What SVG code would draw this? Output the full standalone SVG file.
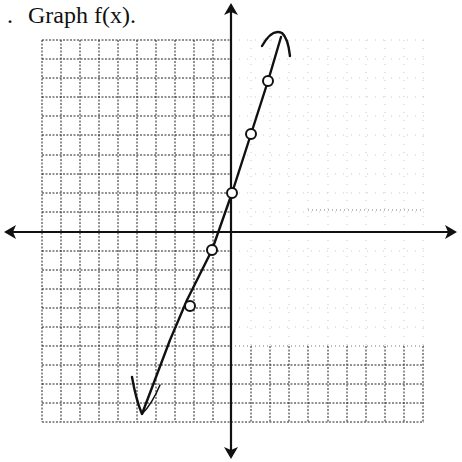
<svg xmlns="http://www.w3.org/2000/svg" width="462" height="462" viewBox="0 0 462 462">
<style>
.gd{stroke:#222;stroke-width:1;stroke-dasharray:2 1.5;fill:none}
.gl{stroke:#bbb;stroke-width:0.8;stroke-dasharray:1 7;fill:none}
.ax{stroke:#111;stroke-width:2.2;fill:none}
.cv{stroke:#111;stroke-width:2.4;fill:none;stroke-linecap:round;stroke-linejoin:round}
.pt{stroke:#111;stroke-width:2;fill:#fff}
.ah{fill:#111}
.tt{font-family:'Liberation Serif', serif;font-size:24px;fill:#111}
</style>
<rect width="462" height="462" fill="#fff"/>
<g id="title">
<text class="tt" x="7" y="23">.</text>
<text class="tt" x="28" y="23">Graph f(x).</text>
</g>
<g id="grid-left">
<path class="gd" d="M42,40V422M61,40V422M80,40V422M99,40V422M118,40V422M137,40V422M156,40V422M175,40V422M194,40V422M213,40V422"/>
<path class="gd" d="M42,40H231M42,59H231M42,78H231M42,97H231M42,116H231M42,135H231M42,155H231M42,174H231M42,193H231M42,212H231M42,251H231M42,270H231M42,289H231M42,308H231M42,327H231M42,346H231M42,365H231M42,384H231M42,403H231M42,422H231"/>
</g>
<g id="grid-right-faint">
<path class="gl" d="M251,40V346M270,40V346M289,40V346M308,40V346M328,40V346M347,40V346M366,40V346M385,40V346M404,40V346M423,40V346"/>
<path class="gl" d="M231,40H424M231,59H424M231,78H424M231,97H424M231,116H424M231,135H424M231,155H424M231,174H424M231,193H424M231,212H424M231,251H424M231,270H424M231,289H424M231,308H424M231,327H424"/>
<path class="gd" style="stroke:#777;stroke-dasharray:1 3" d="M308,210H424M231,346H424"/>
</g>
<g id="grid-right-bottom">
<path class="gd" d="M251,346V422M270,346V422M289,346V422M308,346V422M328,346V422M347,346V422M366,346V422M385,346V422M404,346V422M423,346V422"/>
<path class="gd" d="M231,365H424M231,384H424M231,403H424M231,422H424"/>
</g>
<g id="axes">
<path class="ax" d="M10,232H450"/>
<path class="ax" d="M231,10V452"/>
<path class="ah" d="M4,232L16,225L13,232L16,239Z"/>
<path class="ah" d="M457,232L445,225L448,232L445,239Z"/>
<path class="ah" d="M231,3L224,15L231,12L238,15Z"/>
<path class="ah" d="M231,459L224,447L231,450L238,447Z"/>
</g>
<g id="curve">
<path class="cv" d="M132,377Q136,400 142,414L170,340L187,300L212,250L232,193L251,134L268,81L281,37"/>
<path class="cv" d="M262,46Q272,28 282,33Q288,38 290,56"/>
<path class="cv" style="stroke-width:1.5" d="M142,414Q152,404 160,385"/>
</g>
<g id="points">
<circle class="pt" cx="190" cy="306" r="5"/>
<circle class="pt" cx="212" cy="250" r="5"/>
<circle class="pt" cx="232" cy="193" r="5"/>
<circle class="pt" cx="251" cy="134" r="5"/>
<circle class="pt" cx="268" cy="81" r="5"/>
</g>
</svg>
